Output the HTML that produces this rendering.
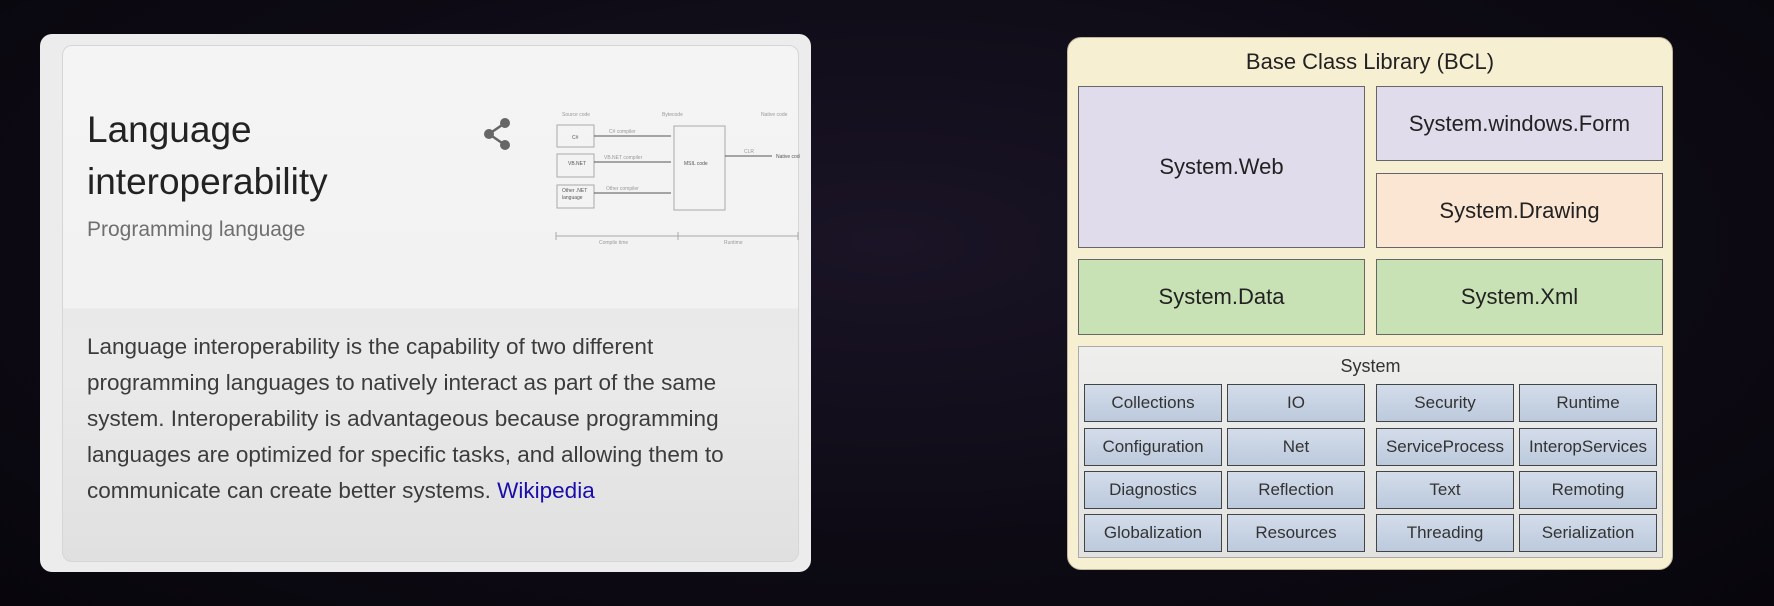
<!DOCTYPE html>
<html><head><meta charset="utf-8"><style>
*{margin:0;padding:0;box-sizing:border-box}
body{width:1774px;height:606px;overflow:hidden;background:radial-gradient(ellipse at 50% 40%,#1a1426 0%,#0d0a14 60%,#08060c 100%);font-family:"Liberation Sans",sans-serif;position:relative}
.a{position:absolute}
.card{left:40px;top:34px;width:771px;height:538px;background:#ececec;border-radius:12px}
.inner{left:62px;top:45px;width:737px;height:517px;border:1px solid #d6d6d6;border-radius:10px;background:linear-gradient(#f4f4f4 0,#f2f2f2 262px,#e9e9e9 263px,#eaeaea 330px,#e0e0e0 100%)}
.bcl{left:1067px;top:37px;width:606px;height:533px;background:#f7efd2;border-radius:14px;border:1px solid #bdb79c}
.bx{position:absolute;border:1.5px solid #666;display:flex;align-items:center;justify-content:center;color:#222;font-size:22px}
.c{position:absolute;border:1.5px solid #444;background:linear-gradient(#d3dcea,#bccadd);display:flex;align-items:center;justify-content:center;color:#333;font-size:17px}
</style></head><body>
<div class="a card"></div>
<div class="a inner"></div>
<div class="a" style="left:87px;top:104px;font-size:37px;color:#222;line-height:52px">Language<br>interoperability</div>
<div class="a" style="left:87px;top:218px;font-size:21px;color:#6f6f6f">Programming language</div>
<svg class="a" style="left:480px;top:116px" width="34" height="36" viewBox="0 0 34 36"><g fill="#666"><circle cx="25" cy="7" r="5"/><circle cx="9" cy="18" r="5"/><circle cx="25" cy="29" r="5"/></g><path d="M25 7L9 18L25 29" stroke="#666" stroke-width="2.5" fill="none"/></svg>
<svg class="a" style="left:554px;top:110px" width="246" height="135" viewBox="0 0 246 135" font-family="Liberation Sans" font-size="5" fill="#999">
<text x="8" y="6">Source code</text><text x="108" y="6">Bytecode</text><text x="207" y="6">Native code</text>
<g stroke="#aaa" fill="none"><rect x="3" y="15" width="37" height="22"/><rect x="3" y="44" width="37" height="23"/><rect x="3" y="75" width="37" height="23"/><rect x="120" y="16" width="51" height="84"/></g>
<g stroke="#555" stroke-width="1"><path d="M40 26H117M40 52H117M40 83H117M171 46H218"/></g>
<text x="18" y="29" fill="#555">C#</text><text x="14" y="55" fill="#555">VB.NET</text><text x="8" y="82" fill="#555">Other .NET</text><text x="8" y="89" fill="#555">language</text>
<text x="130" y="55" fill="#555">MSIL code</text><text x="222" y="48" fill="#555">Native code</text>
<text x="55" y="23">C# compiler</text><text x="50" y="49">VB.NET compiler</text><text x="52" y="80">Other compiler</text><text x="190" y="43">CLR</text>
<path d="M2 126H244M2 122V130M124 122V130M244 122V130" stroke="#aaa"/>
<text x="45" y="134">Compile time</text><text x="170" y="134">Runtime</text>
</svg>
<div class="a" style="left:87px;top:329px;white-space:nowrap;font-size:22.5px;line-height:36px;color:#3c3c3c">Language interoperability is the capability of two different<br>programming languages to natively interact as part of the same<br>system. Interoperability is advantageous because programming<br>languages are optimized for specific tasks, and allowing them to<br>communicate can create better systems. <span style="color:#1a0dab">Wikipedia</span></div>

<div class="a bcl"></div>
<div class="a" style="left:1067px;top:49px;width:606px;text-align:center;font-size:22px;color:#222">Base Class Library (BCL)</div>
<div class="bx" style="left:1078px;top:86px;width:287px;height:162px;background:#e1dcec">System.Web</div>
<div class="bx" style="left:1376px;top:86px;width:287px;height:75px;background:#e1dcec">System.windows.Form</div>
<div class="bx" style="left:1376px;top:173px;width:287px;height:75px;background:#fae6d2">System.Drawing</div>
<div class="bx" style="left:1078px;top:259px;width:287px;height:76px;background:#c9e2b5">System.Data</div>
<div class="bx" style="left:1376px;top:259px;width:287px;height:76px;background:#c9e2b5">System.Xml</div>
<div class="a" style="left:1078px;top:346px;width:585px;height:212px;border:1.5px solid #aaa;background:linear-gradient(#eeeeec,#e2e2e0)"></div>
<div class="a" style="left:1078px;top:356px;width:585px;text-align:center;font-size:18px;color:#333">System</div>
<div class="c" style="left:1084px;top:384px;width:138px;height:38px">Collections</div>
<div class="c" style="left:1227px;top:384px;width:138px;height:38px">IO</div>
<div class="c" style="left:1376px;top:384px;width:138px;height:38px">Security</div>
<div class="c" style="left:1519px;top:384px;width:138px;height:38px">Runtime</div>
<div class="c" style="left:1084px;top:428px;width:138px;height:38px">Configuration</div>
<div class="c" style="left:1227px;top:428px;width:138px;height:38px">Net</div>
<div class="c" style="left:1376px;top:428px;width:138px;height:38px">ServiceProcess</div>
<div class="c" style="left:1519px;top:428px;width:138px;height:38px">InteropServices</div>
<div class="c" style="left:1084px;top:471px;width:138px;height:38px">Diagnostics</div>
<div class="c" style="left:1227px;top:471px;width:138px;height:38px">Reflection</div>
<div class="c" style="left:1376px;top:471px;width:138px;height:38px">Text</div>
<div class="c" style="left:1519px;top:471px;width:138px;height:38px">Remoting</div>
<div class="c" style="left:1084px;top:514px;width:138px;height:38px">Globalization</div>
<div class="c" style="left:1227px;top:514px;width:138px;height:38px">Resources</div>
<div class="c" style="left:1376px;top:514px;width:138px;height:38px">Threading</div>
<div class="c" style="left:1519px;top:514px;width:138px;height:38px">Serialization</div>
</body></html>
